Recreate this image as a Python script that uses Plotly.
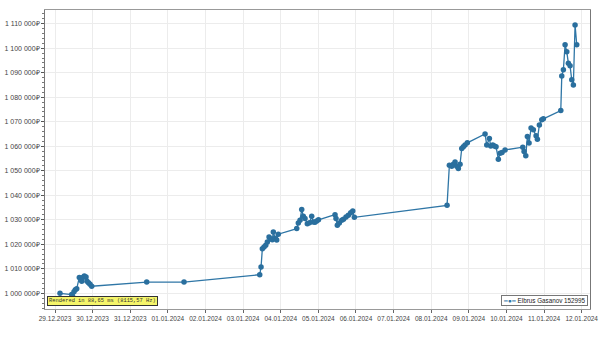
import plotly.graph_objects as go

series_name = "Elbrus Gasanov 152995"

times = [
    "2023-12-29 03:11", "2023-12-29 10:39", "2023-12-29 11:10", "2023-12-29 12:07",
    "2023-12-29 12:57", "2023-12-29 13:51", "2023-12-29 15:31", "2023-12-29 17:03",
    "2023-12-29 17:41", "2023-12-29 18:42", "2023-12-29 19:47", "2023-12-29 20:25",
    "2023-12-29 21:23", "2023-12-29 22:20", "2023-12-29 23:25",
    "2023-12-31 10:30", "2024-01-01 10:18", "2024-01-03 10:36",
    "2024-01-03 11:26", "2024-01-03 12:16", "2024-01-03 13:20", "2024-01-03 14:26",
    "2024-01-03 15:27", "2024-01-03 16:32", "2024-01-03 17:37", "2024-01-03 18:38",
    "2024-01-03 19:16", "2024-01-03 20:21", "2024-01-03 21:26", "2024-01-03 22:27",
    "2024-01-04 10:12", "2024-01-04 11:13", "2024-01-04 12:18", "2024-01-04 13:23",
    "2024-01-04 14:24", "2024-01-04 15:29", "2024-01-04 16:57", "2024-01-04 18:21",
    "2024-01-04 19:45", "2024-01-04 20:46", "2024-01-04 21:51", "2024-01-04 22:56",
    "2024-01-05 00:05", "2024-01-05 10:38",
    "2024-01-05 11:16", "2024-01-05 12:06", "2024-01-05 13:22", "2024-01-05 14:54",
    "2024-01-05 16:03", "2024-01-05 17:39", "2024-01-05 19:07", "2024-01-05 20:39",
    "2024-01-05 21:56", "2024-01-05 22:57",
    "2024-01-08 10:06",
    "2024-01-08 11:34", "2024-01-08 13:06", "2024-01-08 14:07", "2024-01-08 15:12",
    "2024-01-08 16:17", "2024-01-08 17:18", "2024-01-08 18:23", "2024-01-08 19:28",
    "2024-01-08 20:29", "2024-01-08 21:34", "2024-01-08 23:02",
    "2024-01-09 10:20", "2024-01-09 11:25", "2024-01-09 13:05", "2024-01-09 13:58",
    "2024-01-09 15:15", "2024-01-09 16:16", "2024-01-09 17:21", "2024-01-09 18:49",
    "2024-01-09 19:54", "2024-01-09 21:10", "2024-01-09 23:05",
    "2024-01-10 10:24", "2024-01-10 11:14", "2024-01-10 12:19", "2024-01-10 13:20",
    "2024-01-10 14:25", "2024-01-10 15:41", "2024-01-10 17:09", "2024-01-10 18:53",
    "2024-01-10 19:43", "2024-01-10 21:00", "2024-01-10 22:32", "2024-01-10 23:33",
    "2024-01-11 10:39", "2024-01-11 11:17", "2024-01-11 12:18", "2024-01-11 13:23",
    "2024-01-11 14:28", "2024-01-11 15:29", "2024-01-11 16:34", "2024-01-11 17:39",
    "2024-01-11 18:40", "2024-01-11 19:45", "2024-01-11 20:50",
]

balance = [
    1000000, 999470, 998900, 1000600,
    1001500, 1001900, 1006500, 1004900,
    1006500, 1007100, 1006700, 1004900,
    1004300, 1003700, 1002900,
    1004600, 1004600, 1007600,
    1010700, 1018200, 1018900, 1019600,
    1020900, 1023000, 1022300, 1021900,
    1025000, 1022450, 1021800, 1024100,
    1026400, 1028700, 1029800, 1034200,
    1031400, 1030500, 1028400, 1028800,
    1031400, 1029100, 1029000, 1029500,
    1030000, 1032100,
    1030500, 1027800, 1028700, 1029800,
    1030200, 1031100, 1031800, 1032900,
    1033600, 1031000,
    1035900,
    1052200, 1051800, 1052700, 1053600,
    1051800, 1050900, 1052700, 1059100,
    1059800, 1060500, 1061400,
    1065000, 1060500, 1063200, 1060100,
    1060500, 1060100, 1059800, 1054700,
    1057100, 1057400, 1058500,
    1059600, 1057900, 1056100, 1064000,
    1061300, 1067400, 1066700, 1064300,
    1062900, 1068700, 1070800, 1071200,
    1074600, 1088700, 1091200, 1101400,
    1098600, 1093900, 1092800, 1087100,
    1085000, 1109500, 1101400,
]

render_note = "Rendered in 88,65 ms (8115,57 Hz)"

line_color = "#2f76a6"
marker_color = "#2a6f9e"

fig = go.Figure()
fig.add_trace(go.Scatter(
    x=times, y=balance, mode="lines+markers", name=series_name,
    line=dict(color=line_color, width=1.3),
    marker=dict(color=marker_color, size=5.5),
    showlegend=False,
))

fig.update_layout(
    width=600, height=337,
    margin=dict(l=45, r=10, t=10, b=28, autoexpand=False),
    paper_bgcolor="white", plot_bgcolor="white",
    separators=", ",
    xaxis=dict(
        type="date",
        range=["2023-12-28 17:37", "2024-01-12 05:17"],
        dtick=86400000, tick0="2023-12-29",
        tickformat="%d.%m.%Y", tickangle=0,
        tickfont=dict(family="Liberation Sans, Arial, sans-serif", size=6.5, color="#444"),
        ticks="outside", ticklen=3, tickcolor="#666",
        showgrid=True, gridcolor="#ececec", gridwidth=1,
        showline=True, linecolor="#999", linewidth=1, mirror=True,
        zeroline=False,
    ),
    yaxis=dict(
        range=[993600, 1115590],
        dtick=10000, tick0=1000000,
        tickformat=",d", ticksuffix="₽",
        tickfont=dict(family="Liberation Sans, Arial, sans-serif", size=7, color="#444"),
        ticks="outside", ticklen=3, tickcolor="#555",
        minor=dict(ticks="outside", ticklen=2, dtick=2000, tickcolor="#777", showgrid=False),
        showgrid=True, gridcolor="#ececec", gridwidth=1,
        showline=True, linecolor="#777", linewidth=1, mirror=True,
        zeroline=False,
    ),
    annotations=[
        dict(
            text=render_note, xref="paper", yref="paper", x=0.004, y=0.01,
            xanchor="left", yanchor="bottom", showarrow=False,
            font=dict(family="Liberation Mono, Courier New, monospace", size=5.4, color="#333"),
            bgcolor="#f5f56a", bordercolor="#333", borderwidth=1, borderpad=1,
        ),
        dict(
            text=f"<span style='color:{line_color}'>━●━</span> {series_name}",
            xref="paper", yref="paper", x=0.996, y=0.01,
            xanchor="right", yanchor="bottom", showarrow=False,
            font=dict(family="Liberation Sans, Arial, sans-serif", size=6.3, color="#222"),
            bgcolor="white", bordercolor="#777", borderwidth=1, borderpad=1,
        ),
    ],
)

fig.write_html("out.html")
